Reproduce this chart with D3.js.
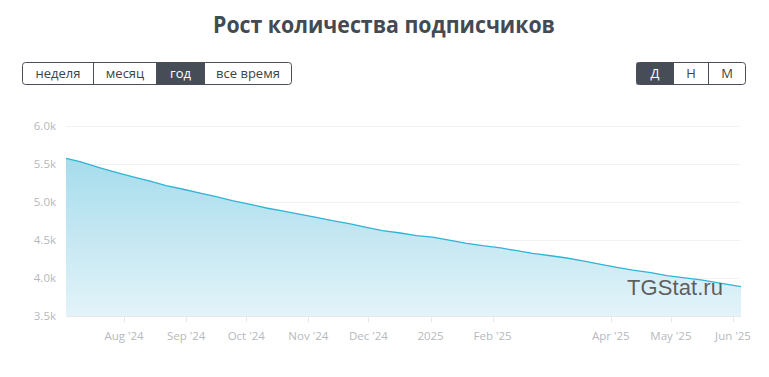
<!DOCTYPE html>
<html><head><meta charset="utf-8">
<script src="https://cdn.jsdelivr.net/npm/d3@7"></script>
<style>
html,body{margin:0;padding:0;background:#fff;}
svg{display:block;}
</style></head>
<body>
<svg id="chart" width="769" height="377"></svg>
<script>
const title = "Рост количества подписчиков";
const periodButtons = ["неделя","месяц","год","все время"];
const periodActive = "год";
const scaleButtons = ["Д","Н","М"];
const scaleActive = "Д";
const dates = ["2024-07-03","2024-07-10","2024-07-20","2024-07-28","2024-08-05","2024-08-14","2024-08-22","2024-08-30","2024-09-08","2024-09-16","2024-09-24","2024-10-03","2024-10-11","2024-10-19","2024-10-28","2024-11-05","2024-11-13","2024-11-22","2024-11-30","2024-12-08","2024-12-17","2024-12-25","2025-01-02","2025-01-11","2025-01-19","2025-01-27","2025-02-05","2025-02-13","2025-02-21","2025-03-02","2025-03-10","2025-03-18","2025-03-27","2025-04-04","2025-04-12","2025-04-21","2025-04-29","2025-05-07","2025-05-16","2025-05-24","2025-06-05"];
const subscribers = [5575,5530,5450,5390,5333,5276,5214,5171,5118,5070,5017,4970,4921,4882,4838,4799,4754,4711,4667,4622,4592,4557,4539,4496,4457,4425,4395,4359,4325,4293,4263,4224,4180,4141,4105,4070,4030,4004,3974,3938,3886];
const xTickDates = ["2024-08-01","2024-09-01","2024-10-01","2024-11-01","2024-12-01","2025-01-01","2025-02-01","2025-04-01","2025-05-01","2025-06-01"];
const xTickLabels = ["Aug '24","Sep '24","Oct '24","Nov '24","Dec '24","2025","Feb '25","Apr '25","May '25","Jun '25"];
const yTicks = [3500,4000,4500,5000,5500,6000];
const yTickLabels = ["3.5k","4.0k","4.5k","5.0k","5.5k","6.0k"];
const watermark = "TGStat.ru";

const parse = d3.utcParse("%Y-%m-%d");
const data = dates.map((d,i)=>({date:parse(d), value:subscribers[i]}));

const svg = d3.select("#chart");
const L=66, R=741, T=126, B=316;
const x = d3.scaleUtc().domain([parse(dates[0]), parse(dates[dates.length-1])]).range([L,R]);
const y = d3.scaleLinear().domain([3500,6000]).range([B,T]);

const font = "'Open Sans', 'Noto Sans', sans-serif";

// title
svg.append("text").attr("x",384).attr("y",33).attr("text-anchor","middle")
  .attr("font-family","'Open Sans','Noto Sans',sans-serif").attr("font-weight","bold").attr("font-size",22.5)
  .attr("fill","#444a52").attr("textLength",342).attr("lengthAdjust","spacingAndGlyphs").text(title);

// button groups
function buttonGroup(labels, active, x0, widths){
  const g = svg.append("g");
  let cx = x0;
  const h = 22, yb = 62.5;
  const total = d3.sum(widths);
  g.append("rect").attr("x",x0+0.5).attr("y",yb).attr("width",total).attr("height",h)
    .attr("rx",3).attr("fill","#fff").attr("stroke","#4a4f57").attr("stroke-width",1);
  labels.forEach((lab,i)=>{
    const w = widths[i];
    if(lab===active){
      g.append("rect").attr("x",cx+0.5).attr("y",yb).attr("width",w).attr("height",h)
        .attr("fill","#474d57");
    }
    if(i>0){
      g.append("line").attr("x1",cx+0.5).attr("x2",cx+0.5).attr("y1",yb).attr("y2",yb+h)
        .attr("stroke","#4a4f57");
    }
    g.append("text").attr("x",cx+w/2+0.5).attr("y",yb+15.5).attr("text-anchor","middle")
      .attr("font-family",font).attr("font-size",13)
      .attr("fill", lab===active?"#fff":"#3d434b").text(lab);
    cx += w;
  });
}
buttonGroup(periodButtons, periodActive, 22, [71,63,48,87]);
buttonGroup(scaleButtons, scaleActive, 636, [37,35,37]);

// gradient
const defs = svg.append("defs");
const grad = defs.append("linearGradient").attr("id","fillGrad").attr("x1",0).attr("y1",0).attr("x2",0).attr("y2",1);
grad.append("stop").attr("offset","0%").attr("stop-color","#a6dcec");
grad.append("stop").attr("offset","100%").attr("stop-color","#e3f3f9");

// grid
svg.append("g").selectAll("line").data(yTicks.slice(1)).join("line")
  .attr("x1",L).attr("x2",R).attr("y1",d=>Math.round(y(d))+0.5).attr("y2",d=>Math.round(y(d))+0.5)
  .attr("stroke","#f1f3f5").attr("stroke-width",1);

// area
const area = d3.area().x(d=>x(d.date)).y0(B).y1(d=>y(d.value));
svg.append("path").datum(data).attr("d",area).attr("fill","url(#fillGrad)");
const line = d3.line().x(d=>x(d.date)).y(d=>y(d.value));
svg.append("path").datum(data).attr("d",line).attr("fill","none").attr("stroke","#2fb4d6").attr("stroke-width",1.3);

// y axis labels
svg.append("g").selectAll("text").data(yTicks).join("text")
  .attr("x",56).attr("y",d=>y(d)+4).attr("text-anchor","end")
  .attr("font-family",font).attr("font-size",11.5).attr("fill","#b5b9be")
  .text((d,i)=>yTickLabels[i]);

// x axis
svg.append("line").attr("x1",L).attr("x2",R).attr("y1",B+0.5).attr("y2",B+0.5).attr("stroke","#e6e8eb");
const xt = xTickDates.map(parse);
svg.append("g").selectAll("line").data(xt).join("line")
  .attr("x1",d=>Math.round(x(d))+0.5).attr("x2",d=>Math.round(x(d))+0.5)
  .attr("y1",B).attr("y2",B+6).attr("stroke","#e6e8eb");
svg.append("g").selectAll("text").data(xt).join("text")
  .attr("x",d=>x(d)).attr("y",340).attr("text-anchor","middle")
  .attr("font-family",font).attr("font-size",11.5).attr("fill","#b5b9be")
  .text((d,i)=>xTickLabels[i]);

// watermark
svg.append("text").attr("x",627).attr("y",295).attr("font-family","'Liberation Sans','Helvetica',sans-serif")
  .attr("font-size",22).attr("fill","#555").attr("fill-opacity",0.95).attr("textLength",96).text(watermark);
</script>
</body></html>
